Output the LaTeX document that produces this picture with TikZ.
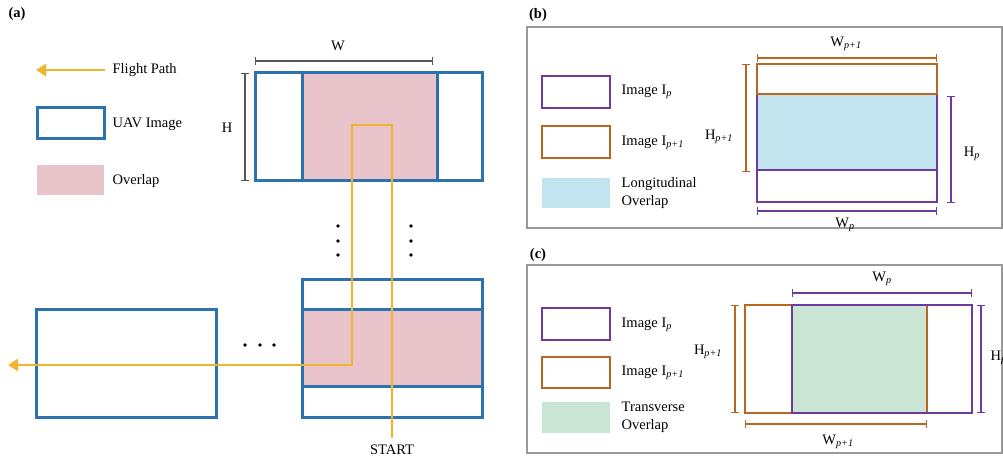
\documentclass[tikz,border=0pt]{standalone}
\usepackage{fontspec}
\setmainfont{Liberation Serif}
\usetikzlibrary{arrows.meta}
\definecolor{uavblue}{HTML}{2B72AE}
\definecolor{pathyellow}{HTML}{F2B42E}
\definecolor{overlapred}{HTML}{E8C3CA}
\definecolor{ppurple}{HTML}{6E3AA2}
\definecolor{qorange}{HTML}{B9661E}
\definecolor{longblue}{HTML}{C2E4EE}
\definecolor{transgreen}{HTML}{CBE5D5}
\definecolor{dimgray}{HTML}{555555}
\newcommand{\sub}[1]{\textsubscript{\textit{#1}}}
\begin{document}
\begin{tikzpicture}[x=1pt,y=-1pt,line width=1.3pt,
  uav/.style={draw=uavblue,line width=3pt},
  flight/.style={draw=pathyellow,line width=2.8pt},
  imgp/.style={draw=ppurple,line width=2.8pt},
  imgq/.style={draw=qorange,line width=2.8pt},
  dimline/.style={line width=1.3pt,{Bar[width=8pt]}-{Bar[width=8pt]}},
  panel/.style={draw=black!40,line width=1.3pt},
  every node/.style={font=\fontsize{14.5}{17}\selectfont,inner sep=1pt}]
 \useasboundingbox (0,0) rectangle (1003,457);
 % (a) flight plan
 \node[font=\fontsize{14.5}{17}\selectfont\bfseries] (tagA) at (17,14) {(a)};
 \coordinate (legA0) at (105,70); \coordinate (legA1) at (36,70);
 \draw[flight,-{Triangle[width=12pt,length=10pt]}] (legA0) -- (legA1);
 \node[anchor=west] (legFlight) at (111,70) {Flight Path};
 \draw[uav] (37,108) rectangle (104,139);
 \node[anchor=west] (legUav) at (111,124) {UAV Image};
 \fill[overlapred] (37,165) rectangle (104,195);
 \node[anchor=west] (legOver) at (111,181) {Overlap};
 % top image
 \fill[overlapred] (302,73) rectangle (437,181);
 \draw[uav] (255,73) rectangle (482,181);
 \draw[uav] (302,73) -- (302,181) (437,73) -- (437,181);
 \coordinate (wl) at (255,61); \coordinate (wr) at (433,61);
 \draw[dimline,dimgray] (wl) -- (wr);
 \node (lblW) at (338,46) {W};
 \coordinate (ht) at (245,73); \coordinate (hb) at (245,181);
 \draw[dimline,dimgray] (ht) -- (hb);
 \node (lblH) at (227,128) {H};
 \foreach \y in {226,241,255} {\fill (338,\y) circle (1.8) (411,\y) circle (1.8);}
 \foreach \x in {245,260,274} {\fill (\x,345) circle (1.8);}
 % bottom images
 \fill[overlapred] (302,309) rectangle (482,386);
 \draw[uav] (302,279) rectangle (482,417);
 \draw[uav] (302,309) -- (482,309) (302,386) -- (482,386);
 \draw[uav] (36,309) rectangle (216,417);
 % flight path
 \coordinate (start) at (392,438); \coordinate (turn) at (352,125);
 \coordinate (finish) at (8,365);
 \draw[flight,-{Triangle[width=12pt,length=10pt]}] (start) |- (turn) |- (finish);
 \node (lblStart) at (392,450) {START};
 % (b) longitudinal overlap
 \node[font=\fontsize{14.5}{17}\selectfont\bfseries] (tagB) at (538,15) {(b)};
 \draw[panel] (527,27) rectangle (1002,228);
 \draw[imgp] (542,76) rectangle (610,108);
 \node[anchor=west] (legBp) at (620,92) {Image I\sub{p}};
 \draw[imgq] (542,126) rectangle (610,158);
 \node[anchor=west] (legBq) at (620,143) {Image I\sub{p+1}};
 \fill[longblue] (542,178) rectangle (610,208);
 \node[anchor=west,align=left,font=\fontsize{14.5}{18}\selectfont] (legBo) at (620,193) {Longitudinal\\Overlap};
 \fill[longblue] (757,94) rectangle (937,170);
 \draw[imgp] (757,94) rectangle (937,202);
 \draw[imgp] (757,170) -- (937,170);
 \draw[imgq] (757,64) rectangle (937,94);
 \draw[dimline,qorange] (757,58) -- (937,58);
 \node (lblBwq) at (846,44) {W\sub{p+1}};
 \draw[dimline,ppurple] (757,211) -- (937,211);
 \node (lblBwp) at (845,225) {W\sub{p}};
 \draw[dimline,qorange] (746,64) -- (746,172);
 \node (lblBhq) at (719,137) {H\sub{p+1}};
 \draw[dimline,ppurple] (951,96) -- (951,203);
 \node (lblBhp) at (972,154) {H\sub{p}};
 % (c) transverse overlap
 \node[font=\fontsize{14.5}{17}\selectfont\bfseries] (tagC) at (538,255) {(c)};
 \draw[panel] (527,265) rectangle (1002,453);
 \draw[imgp] (542,308) rectangle (610,340);
 \node[anchor=west] (legCp) at (620,325) {Image I\sub{p}};
 \draw[imgq] (542,357) rectangle (610,388);
 \node[anchor=west] (legCq) at (620,373) {Image I\sub{p+1}};
 \fill[transgreen] (542,402) rectangle (610,433);
 \node[anchor=west,align=left,font=\fontsize{14.5}{18}\selectfont] (legCo) at (620,417) {Transverse\\Overlap};
 \fill[transgreen] (792,305) rectangle (927,413);
 \draw[imgq] (745,305) rectangle (927,413);
 \draw[imgp] (792,305) rectangle (972,413);
 \draw[dimline,ppurple] (792,293) -- (972,293);
 \node (lblCwp) at (882,279) {W\sub{p}};
 \draw[dimline,qorange] (745,424) -- (927,424);
 \node (lblCwq) at (838,442) {W\sub{p+1}};
 \draw[dimline,qorange] (735,305) -- (735,413);
 \node (lblChq) at (708,352) {H\sub{p+1}};
 \draw[dimline,ppurple] (981,305) -- (981,413);
 \node[anchor=west] (lblChp) at (989,358) {H\sub{p}};
\end{tikzpicture}
\end{document}
